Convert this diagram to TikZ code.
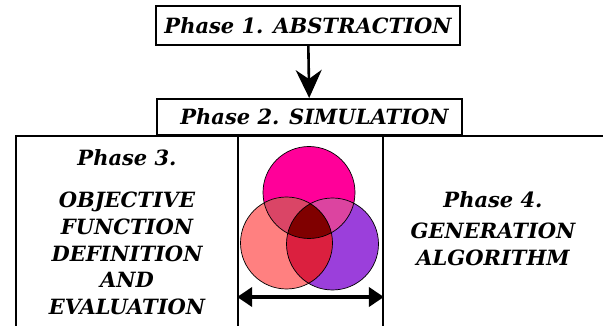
\documentclass[tikz,border=0pt]{standalone}
\usepackage{fontspec}
\setmainfont{DejaVu Serif}
\usetikzlibrary{positioning,arrows.meta}
\definecolor{setA}{HTML}{FF0099}
\definecolor{setB}{HTML}{FF8080}
\definecolor{setC}{HTML}{9B3FDB}
\definecolor{setAB}{HTML}{DA4566}
\definecolor{setAC}{HTML}{DC44A0}
\definecolor{setBC}{HTML}{DB203F}
\definecolor{setABC}{HTML}{800000}
\tikzset{
  phase/.style={rectangle, draw=black, line width=2pt, inner sep=0pt, font=\bfseries\itshape\fontsize{21}{25}\selectfont},
  panel/.style={rectangle, draw=black, line width=1.8pt, inner sep=0pt, minimum height=200pt},
  label/.style={align=center, font=\bfseries\itshape\fontsize{21}{26.8}\selectfont},
  ring/.style={draw=black, line width=0.7pt},
  connect/.style={-{Stealth[length=28pt,width=26pt,inset=9pt]}, line width=2.6pt},
  span/.style={{Triangle[length=15pt,width=19pt]}-{Triangle[length=15pt,width=19pt]}, line width=3.6pt}
}

\begin{document}
\begin{tikzpicture}[x=1pt,y=-1pt]
	\useasboundingbox (0,0) rectangle (603,326);
	% phases 1 and 2
	\node[phase, minimum width=304pt, minimum height=39pt] (abs) at (308,25.5) {Phase 1. ABSTRACTION};
	\node[phase, minimum width=305pt, minimum height=36pt] (sim) at (309.5,117) {\hspace{10pt}Phase 2. SIMULATION};
	\path (abs) edge [connect] (sim);

	% bottom panels
	\node[panel, minimum width=222pt] (obj) at (127,236) {};
	\node[panel, minimum width=145pt] (mid) at (310.5,236) {};
	\node[panel, minimum width=240pt] (gen) at (503,236) {};

	\node[label] (objhead) at (127,158) {Phase 3.};
	\node[label] (objtext) at (127,253.5) {OBJECTIVE\\FUNCTION\\DEFINITION\\AND\\EVALUATION};
	\node[label] (genhead) at (493,200) {Phase 4.};
	\node[label] (gentext) at (493,244.5) {GENERATION\\ALGORITHM};

	% venn diagram
	\coordinate (ca) at (309,192.5);
	\coordinate (cb) at (286.5,243);
	\coordinate (cc) at (332.5,244);
	\fill[setA] (ca) circle (46pt);
	\fill[setB] (cb) circle (46pt);
	\fill[setC] (cc) circle (46pt);
	\begin{scope}
		\clip (ca) circle (46pt);
		\fill[setAB] (cb) circle (46pt);
		\fill[setAC] (cc) circle (46pt);
	\end{scope}
	\begin{scope}
		\clip (cb) circle (46pt);
		\fill[setBC] (cc) circle (46pt);
		\clip (ca) circle (46pt);
		\fill[setABC] (cc) circle (46pt);
	\end{scope}
	\draw[ring] (ca) circle (46pt);
	\draw[ring] (cb) circle (46pt);
	\draw[ring] (cc) circle (46pt);

	\coordinate (spanl) at (mid.west |- 0,297);
	\coordinate (spanr) at (mid.east |- 0,297);
	\draw[span] (spanl) -- (spanr);
\end{tikzpicture}
\end{document}
